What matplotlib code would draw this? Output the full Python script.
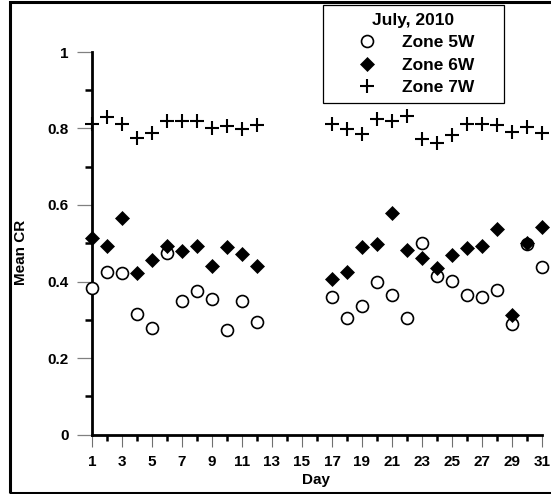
import numpy as np
import matplotlib
matplotlib.use("Agg")
import matplotlib.pyplot as plt
from matplotlib.patches import Rectangle
from matplotlib.ticker import FixedLocator

plt.rcParams['font.family'] = ['Liberation Sans', 'DejaVu Sans']
plt.rcParams['font.weight'] = 'bold'

nan = np.nan
days = list(range(1, 32))
zone5w = [0.382, 0.426, 0.423, 0.316, 0.278, 0.474, 0.348, 0.376, 0.354, 0.272, 0.348, 0.295,
          nan, nan, nan, nan,
          0.359, 0.304, 0.337, 0.399, 0.365, 0.304, 0.500, 0.415, 0.402, 0.365, 0.360, 0.377,
          0.289, 0.498, 0.437]
zone6w = [0.514, 0.493, 0.565, 0.422, 0.456, 0.494, 0.480, 0.492, 0.441, 0.491, 0.472, 0.441,
          nan, nan, nan, nan,
          0.406, 0.426, 0.490, 0.497, 0.578, 0.482, 0.461, 0.436, 0.469, 0.487, 0.494, 0.537,
          0.313, 0.500, 0.542]
zone7w = [0.811, 0.830, 0.811, 0.774, 0.787, 0.820, 0.820, 0.820, 0.800, 0.807, 0.798, 0.810,
          nan, nan, nan, nan,
          0.813, 0.798, 0.785, 0.826, 0.820, 0.832, 0.772, 0.763, 0.782, 0.813, 0.812, 0.808,
          0.791, 0.804, 0.788]
series_labels = ['Zone 5W', 'Zone 6W', 'Zone 7W']
legend_title = 'July, 2010'
xticks_major = list(range(1, 32, 2))
yticks_major = [0, 0.2, 0.4, 0.6, 0.8, 1.0]
ytick_labels = ['0', '0.2', '0.4', '0.6', '0.8', '1']

W, H = 551, 494
fig = plt.figure(figsize=(W / 100, H / 100), dpi=100)
ax = fig.add_axes([92 / W, 1 - 434.5 / H, (542 - 92) / W, (434.5 - 52) / H])

ax.plot(days, zone5w, linestyle='none', marker='o', ms=8.6, mfc='white', mec='black',
        mew=1.2, clip_on=False, label=series_labels[0], zorder=3)
ax.plot(days, zone6w, linestyle='none', marker='D', ms=7.0, mfc='black', mec='black',
        mew=0.5, clip_on=False, label=series_labels[1], zorder=4)
ax.plot(days, zone7w, linestyle='none', marker='+', ms=9.8, mec='black',
        mew=1.5, clip_on=False, label=series_labels[2], zorder=4)

ax.set_xlim(1, 31)
ax.set_ylim(0, 1)
for s in ['top', 'right']:
    ax.spines[s].set_visible(False)
for s in ['left', 'bottom']:
    ax.spines[s].set_linewidth(2.0)
    ax.spines[s].set_zorder(2)

ax.xaxis.set_major_locator(FixedLocator(xticks_major))
ax.xaxis.set_minor_locator(FixedLocator([d for d in days if d % 2 == 0]))
ax.set_xticklabels([str(d) for d in xticks_major])
ax.yaxis.set_major_locator(FixedLocator(yticks_major))
ax.yaxis.set_minor_locator(FixedLocator([0.1, 0.3, 0.5, 0.7, 0.9]))
ax.set_yticklabels(ytick_labels)

ax.tick_params(axis='x', which='major', direction='out', length=8.6, width=0.8,
               color='#707070', pad=6.0, labelsize=11)
ax.tick_params(axis='x', which='minor', direction='out', length=4.5, width=1.8, color='black')
ax.tick_params(axis='y', which='major', direction='out', length=11, width=0.9,
               color='#808080', pad=6.0, labelsize=11)
ax.tick_params(axis='y', which='minor', direction='out', length=5, width=1.8, color='black')
ax.yaxis.get_major_ticks()[-1].tick1line.set_color('black')
for lab in ax.get_xticklabels() + ax.get_yticklabels():
    lab.set_fontweight('bold')

ax.set_xlabel('Day', fontsize=11, fontweight='bold')
ax.xaxis.set_label_coords((316 - 92) / 450, (434.5 - 473) / 382.5)
ax.set_ylabel('Mean CR', fontsize=11, fontweight='bold')
ax.yaxis.set_label_coords((28 - 92) / 450, (434.5 - 252) / 382.5)

fs = 12.5
leg = ax.legend(loc='upper left', bbox_to_anchor=(323 / W, 1 - 100 / H, 181 / W, 95 / H),
                bbox_transform=fig.transFigure, mode='expand', borderaxespad=0,
                title=legend_title, title_fontproperties={'weight': 'bold', 'size': fs},
                prop={'weight': 'bold', 'size': fs}, fancybox=False, framealpha=1,
                edgecolor='black', borderpad=0.45, handlelength=4.16, handletextpad=-0.07,
                labelspacing=0.42, numpoints=1)
leg.get_frame().set_linewidth(0.9)

fig.patches.append(Rectangle((9.5 / W, 1 - 493 / H), 1.05, (493 - 2.5) / H,
                             transform=fig.transFigure, fill=False, edgecolor='black',
                             linewidth=2.2, clip_on=False))

fig.savefig('out.png', dpi=100)
